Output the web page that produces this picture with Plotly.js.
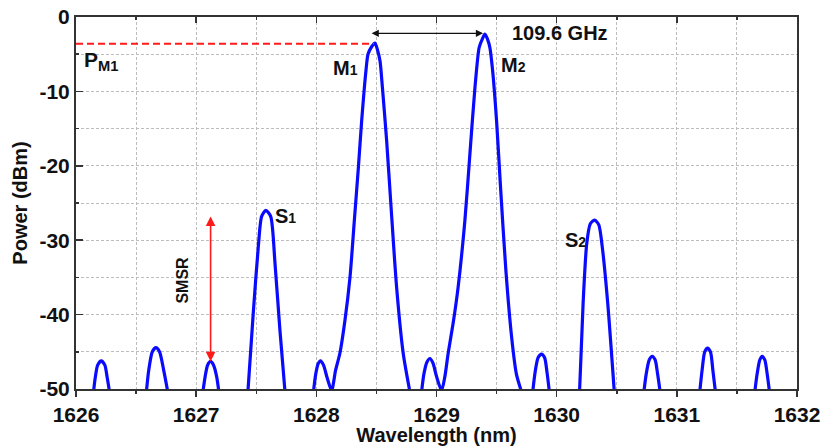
<!DOCTYPE html>
<html>
<head>
<meta charset="utf-8">
<script src="https://cdn.plot.ly/plotly-3.0.1.min.js"></script>
<style>html,body{margin:0;padding:0;background:#fff;}#chart{width:824px;height:446px;}</style>
</head>
<body>
<div id="chart"></div>
<script>
// Spectrum: wavelength (nm) and power (dBm); null separates clipped side-mode segments
const wavelength = [
  1626.145,1626.16,1626.18,1626.21,1626.24,1626.26,1626.28,null,
  1626.585,1626.605,1626.635,1626.665,1626.695,1626.73,1626.765,null,
  1627.055,1627.075,1627.095,1627.12,1627.145,1627.17,1627.19,null,
  1627.43,1627.475,1627.517,1627.545,1627.58,1627.62,1627.656,1627.697,1627.74,null,
  1627.975,1627.995,1628.015,1628.035,1628.06,1628.09,1628.127,1628.16,1628.196,1628.238,1628.28,1628.316,1628.35,1628.377,1628.413,1628.43,1628.46,1628.488,1628.51,1628.53,1628.55,1628.585,1628.62,1628.668,1628.723,1628.78,null,
  1628.875,1628.895,1628.92,1628.945,1628.97,1629.0,1629.042,1629.07,1629.097,1629.14,1629.18,1629.236,1629.278,1629.32,1629.355,1629.38,1629.403,1629.425,1629.444,1629.467,1629.5,1629.533,1629.577,1629.625,1629.665,1629.71,null,
  1629.80,1629.82,1629.845,1629.874,1629.9,1629.92,1629.94,null,
  1630.19,1630.22,1630.25,1630.28,1630.315,1630.35,1630.38,1630.425,1630.48,null,
  1630.725,1630.745,1630.77,1630.795,1630.82,1630.84,1630.862,null,
  1631.19,1631.21,1631.232,1631.255,1631.28,1631.3,1631.322,null,
  1631.648,1631.668,1631.69,1631.71,1631.732,1631.752,1631.772
];
const power = [
  -50.5,-48.5,-46.8,-46.2,-46.8,-48.5,-50.5,null,
  -50.5,-47.5,-45.0,-44.45,-45.0,-47.5,-50.5,null,
  -50.5,-48.3,-46.8,-46.3,-46.8,-48.3,-50.5,null,
  -50.5,-39.8,-30.9,-26.8,-26.0,-26.8,-33.1,-42.1,-50.5,null,
  -50.5,-48,-46.6,-46.2,-46.8,-48.5,-50.2,-47.5,-45.2,-40.8,-35,-27.4,-20.2,-14,-7.2,-5,-4,-3.5,-4.5,-5.9,-9.5,-16.6,-25.1,-36.3,-45.2,-50.5,null,
  -50.5,-48,-46.4,-45.9,-46.5,-48.3,-50.2,-48.3,-45.2,-41,-36.3,-27.4,-18.4,-9.5,-4.1,-3.0,-2.3,-3.0,-4.1,-7.2,-14,-22.9,-34,-43,-48,-50.5,null,
  -50.5,-47.8,-45.8,-45.3,-45.8,-47.8,-50.5,null,
  -50.5,-38.5,-30.5,-27.8,-27.3,-27.9,-31,-38.5,-50.5,null,
  -50.5,-48,-46.1,-45.6,-46.1,-48,-50.5,null,
  -50.5,-47.5,-45,-44.5,-45,-47.5,-50.5,null,
  -50.5,-48,-46.1,-45.6,-46.1,-48,-50.5
];
const xTicks = [1626,1627,1628,1629,1630,1631,1632];
const yTicks = [0,-10,-20,-30,-40,-50];

// Marked levels / positions
const pM1 = -3.6;          // dBm level of main mode M1
const m1Peak = 1628.46;    // arrow start (M1)
const m2Peak = 1629.40;    // arrow end (M2)
const arrowLevel = -2.2;
const smsrX = 1627.12, smsrTop = -26.6, smsrBottom = -46.3;

const FONT = 'Arial, "Liberation Sans", Helvetica, sans-serif';
const gridCol = '#bdbdbd';

const trace = {
  x: wavelength, y: power, type: 'scatter', mode: 'lines',
  line: {color: '#0a0aff', width: 3.2, shape: 'spline', smoothing: 0.7},
  connectgaps: false, hoverinfo: 'skip'
};
const traceTop = {x: [1626,1632], y: [null,null], xaxis: 'x2', yaxis: 'y', type: 'scatter', mode: 'lines', showlegend: false, hoverinfo: 'skip'};

const layout = {
  width: 824, height: 446,
  margin: {l: 76, r: 27, t: 17, b: 57},
  paper_bgcolor: '#fff', plot_bgcolor: '#fff',
  showlegend: false,
  font: {family: FONT, color: '#000'},
  xaxis: {
    range: [1626, 1632], tickvals: xTicks, ticktext: xTicks.map(String),
    ticks: 'outside', ticklen: 6, tickwidth: 1.5, tickcolor: '#333',
    showline: true, linecolor: '#333', linewidth: 2, mirror: true,
    showgrid: true, gridcolor: gridCol, gridwidth: 1, griddash: '3px,2px',
    minor: {dtick: 0.5, tick0: 1626, ticks: 'outside', ticklen: 3, tickwidth: 1.5, tickcolor: '#333', showgrid: true, gridcolor: gridCol, gridwidth: 1, griddash: '3px,2px'},
    tickfont: {family: FONT, size: 21, color: '#111', weight: 'bold'},
    title: {text: '<b>Wavelength (nm)</b>', font: {family: FONT, size: 20, color: '#111'}, standoff: 0},
    zeroline: false
  },
  xaxis2: {
    range: [1626, 1632], overlaying: 'x', side: 'top', tickvals: xTicks,
    showticklabels: false, ticks: 'inside', ticklen: 6, tickwidth: 1.5, tickcolor: '#333',
    minor: {dtick: 0.5, tick0: 1626, ticks: 'inside', ticklen: 3, tickwidth: 1.5, tickcolor: '#333', showgrid: false},
    showgrid: false, showline: false, zeroline: false
  },
  yaxis: {
    range: [-50, 0], tickvals: yTicks, ticktext: yTicks.map(String),
    ticks: 'inside', ticklen: 7, tickwidth: 1.5, tickcolor: '#333',
    showline: true, linecolor: '#333', linewidth: 2, mirror: true,
    showgrid: true, gridcolor: gridCol, gridwidth: 1, griddash: '3px,2px',
    minor: {dtick: 5, tick0: 0, ticks: 'inside', ticklen: 3, tickwidth: 1.5, tickcolor: '#333', showgrid: true, gridcolor: gridCol, gridwidth: 1, griddash: '3px,2px'},
    tickfont: {family: FONT, size: 21, color: '#111', weight: 'bold'},
    title: {text: '<b>Power (dBm)</b>', font: {family: FONT, size: 20, color: '#111'}, standoff: 6},
    zeroline: false
  },
  shapes: [
    {type: 'line', xref: 'x', yref: 'y', x0: 1626, x1: m1Peak + 0.02, y0: pM1, y1: pM1,
     line: {color: '#ff1a1a', width: 2, dash: '7px,4px'}, layer: 'above'}
  ],
  annotations: [
    {xref: 'x', yref: 'y', x: m1Peak, y: arrowLevel, ax: m2Peak, ay: arrowLevel, axref: 'x', ayref: 'y',
     text: '', showarrow: true, arrowside: 'start+end', arrowhead: 2, arrowsize: 1.2, arrowwidth: 1.2, arrowcolor: '#111', standoff: 0, startstandoff: 0},
    {xref: 'x', yref: 'y', x: smsrX, y: smsrBottom, ax: smsrX, ay: smsrTop, axref: 'x', ayref: 'y',
     text: '', showarrow: true, arrowside: 'start+end', arrowhead: 2, arrowsize: 1.2, arrowwidth: 1.6, arrowcolor: '#ff1a1a', standoff: 0, startstandoff: 0},
    {xref: 'x', yref: 'y', x: 1630.03, y: -2.15, text: '<b>109.6 GHz</b>', showarrow: false, font: {family: FONT, size: 20, color: '#111'}},
    {xref: 'x', yref: 'y', x: 1626.21, y: -5.9, text: '<b>P<sub>M1</sub></b>', showarrow: false, font: {family: FONT, size: 21, color: '#111'}},
    {xref: 'x', yref: 'y', x: 1628.24, y: -6.8, text: '<b>M<span style="font-size:14px">1</span></b>', showarrow: false, font: {family: FONT, size: 20, color: '#111'}},
    {xref: 'x', yref: 'y', x: 1629.64, y: -6.45, text: '<b>M<span style="font-size:14px">2</span></b>', showarrow: false, font: {family: FONT, size: 20, color: '#111'}},
    {xref: 'x', yref: 'y', x: 1627.74, y: -26.8, text: '<b>S<span style="font-size:14px">1</span></b>', showarrow: false, font: {family: FONT, size: 20, color: '#111'}},
    {xref: 'x', yref: 'y', x: 1630.16, y: -30.0, text: '<b>S<span style="font-size:14px">2</span></b>', showarrow: false, font: {family: FONT, size: 20, color: '#111'}},
    {xref: 'x', yref: 'y', x: 1626.89, y: -35.3, text: '<b>SMSR</b>', textangle: -90, showarrow: false, font: {family: FONT, size: 16, color: '#111'}}
  ]
};

Plotly.newPlot('chart', [trace, traceTop], layout, {displayModeBar: false, staticPlot: true});
</script>
</body>
</html>
